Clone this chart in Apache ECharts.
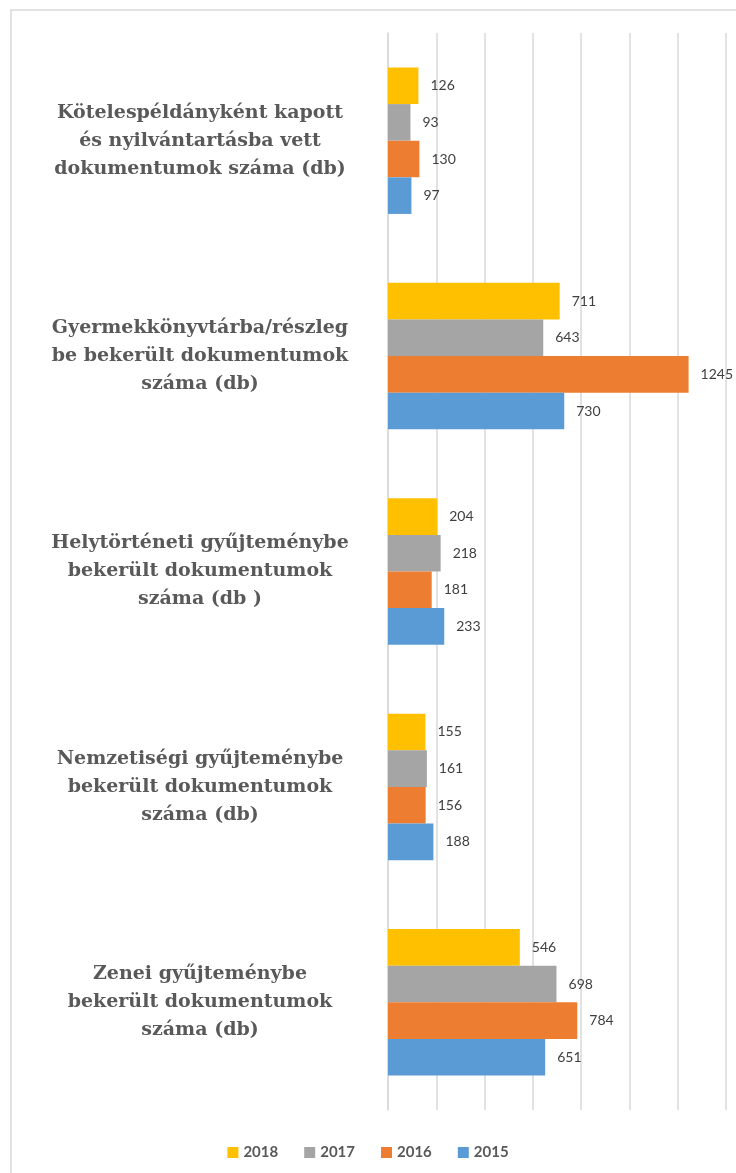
<!DOCTYPE html>
<html>
<head>
<meta charset="utf-8">
<script src="https://cdn.jsdelivr.net/npm/echarts@6/dist/echarts.min.js"></script>
<style>
  html, body { margin: 0; padding: 0; background: #fff; }
  #chart { width: 736px; height: 1173px; }
</style>
</head>
<body>
<div id="chart"></div>
<script>
// categories, top to bottom
var categories = [
    'Kötelespéldányként kapott\nés nyilvántartásba vett\ndokumentumok száma (db)',
    'Gyermekkönyvtárba/részleg\nbe bekerült dokumentumok\nszáma (db)',
    'Helytörténeti gyűjteménybe\nbekerült dokumentumok\nszáma (db )',
    'Nemzetiségi gyűjteménybe\nbekerült dokumentumok\nszáma (db)',
    'Zenei gyűjteménybe\nbekerült dokumentumok\nszáma (db)'
];
var years = ['2018', '2017', '2016', '2015'];
var v2018 = [126, 711, 204, 155, 546];
var v2017 = [93, 643, 218, 161, 698];
var v2016 = [130, 1245, 181, 156, 784];
var v2015 = [97, 730, 233, 188, 651];
var colors = ['#FFC000', '#A5A5A5', '#ED7D31', '#5B9BD5'];

var values = [v2018, v2017, v2016, v2015];

var chart = echarts.init(document.getElementById('chart'));

var series = years.map(function (y, i) {
    return {
        name: y,
        type: 'bar',
        data: values[i],
        barGap: '0%',
        barCategoryGap: '32%',
        itemStyle: { color: colors[i] },
        label: {
            show: true,
            position: 'right',
            distance: 12,
            color: '#404040',
            fontSize: 14,
            fontFamily: 'Lato'
        }
    };
});

chart.setOption({
    animation: false,
    backgroundColor: '#fff',
    color: colors,
    grid: { left: 388, right: 10, top: 33, bottom: 63, containLabel: false },
    legend: {
        data: years,
        bottom: 8,
        left: 'center',
        itemWidth: 11,
        itemHeight: 11,
        itemGap: 26,
        icon: 'rect',
        textStyle: { color: '#595959', fontSize: 15, fontWeight: 'bold', fontFamily: 'Lato' }
    },
    xAxis: {
        type: 'value',
        min: 0,
        max: 1400,
        interval: 200,
        axisLabel: { show: false },
        axisLine: { show: false },
        axisTick: { show: false },
        splitLine: { lineStyle: { color: '#D9D9D9', width: 1.5 } }
    },
    yAxis: {
        type: 'category',
        data: categories,
        inverse: true,
        axisLine: { show: true, lineStyle: { color: '#D9D9D9', width: 1.5 } },
        axisTick: { show: false },
        axisLabel: {
            align: 'center',
            margin: 188,
            color: '#595959',
            fontFamily: 'DejaVu Serif',
            fontWeight: 'bold',
            fontSize: 19,
            lineHeight: 28
        }
    },
    graphic: [{
        type: 'polyline',
        silent: true,
        shape: { points: [[11, 1173], [11, 10], [736, 10]] },
        style: { stroke: '#D9D9D9', lineWidth: 1.5, fill: null }
    }],
    series: series
});
</script>
</body>
</html>
